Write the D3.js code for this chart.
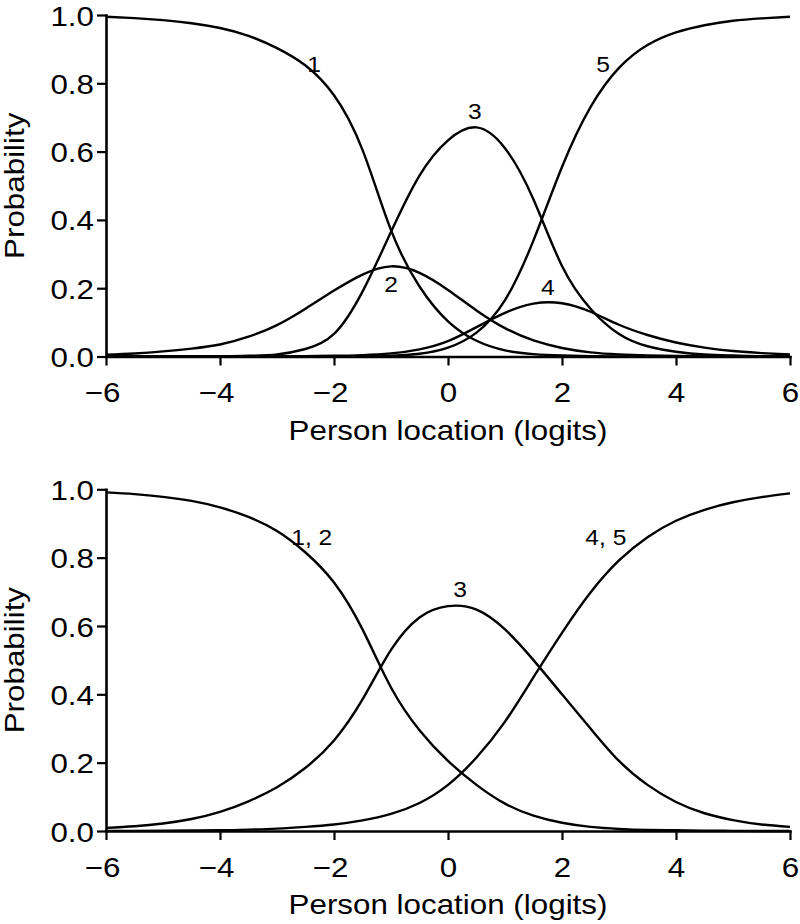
<!DOCTYPE html>
<html>
<head>
<meta charset="utf-8">
<script src="https://cdn.jsdelivr.net/npm/d3@7"></script>
<style>
  body { margin: 0; background: #fff; }
  svg text { font-family: "Liberation Sans", Arial, Helvetica, sans-serif; fill: #000; }
</style>
</head>
<body>
<svg id="chart" width="800" height="924"></svg>
<script>
// ---------- data ----------
const xGrid = [-6,-5.5,-5,-4.5,-4,-3.5,-3,-2.5,-2,-1.5,-1,-0.5,0,0.5,1,1.5,2,2.5,3,3.5,4,4.5,5,5.5,6];

// Top panel: five response categories
const topCat1 = [0.995,0.991,0.985,0.976,0.962,0.939,0.903,0.852,0.765,0.605,0.370,0.205,0.103,0.046,0.018,0.007,0.003,0.001,0,0,0,0,0,0,0];
const topCat2 = [0.005,0.009,0.015,0.023,0.035,0.058,0.092,0.140,0.193,0.240,0.264,0.245,0.195,0.135,0.083,0.047,0.025,0.012,0.006,0.003,0.0015,0.0007,0.0003,0,0];
const topCat3 = [0,0,0,0,0.0005,0.002,0.006,0.022,0.066,0.190,0.365,0.530,0.633,0.671,0.610,0.460,0.265,0.140,0.066,0.030,0.014,0.006,0.003,0.001,0.001];
const topCat4 = [0,0,0,0,0,0,0,0.001,0.002,0.004,0.009,0.021,0.045,0.086,0.128,0.155,0.156,0.131,0.093,0.063,0.041,0.026,0.016,0.010,0.006];
const topCat5 = [0,0,0,0,0,0,0,0,0,0.001,0.002,0.008,0.026,0.070,0.165,0.340,0.555,0.730,0.845,0.912,0.949,0.970,0.983,0.990,0.995];
const topLabels = ["1","2","3","4","5"];
const topLabelX = [-2.35,-1.0,0.47,1.75,2.72];
const topLabelP = [0.855,0.212,0.719,0.204,0.856];

// Bottom panel: collapsed categories
const botCat12 = [0.991,0.986,0.978,0.966,0.947,0.919,0.878,0.815,0.727,0.590,0.420,0.295,0.205,0.135,0.080,0.045,0.024,0.012,0.006,0.003,0.002,0.001,0.0005,0,0];
const botCat3  = [0.009,0.014,0.022,0.035,0.056,0.087,0.128,0.185,0.265,0.385,0.530,0.625,0.658,0.648,0.590,0.500,0.400,0.300,0.205,0.135,0.085,0.052,0.032,0.019,0.012];
const botCat45 = [0.0003,0.0005,0.001,0.0015,0.002,0.004,0.007,0.012,0.019,0.031,0.050,0.082,0.135,0.215,0.320,0.450,0.580,0.698,0.792,0.860,0.908,0.940,0.962,0.977,0.988];
const botLabels = ["1, 2","3","4, 5"];
const botLabelX = [-2.39,0.21,2.77];
const botLabelP = [0.86,0.708,0.86];

const xTicks = [-6,-4,-2,0,2,4,6];
const yTicks = [0,0.2,0.4,0.6,0.8,1.0];
const xTitle = "Person location (logits)";
const yTitle = "Probability";

// ---------- drawing ----------
const svg = d3.select("#chart");
const STRETCH = 1.12;
const x = d3.scaleLinear().domain([-6, 6]).range([106, 790]);

const panels = [
  { top: 15,    bottom: 356.5, series: [topCat1, topCat2, topCat3, topCat4, topCat5],
    labels: topLabels, lx: topLabelX, lp: topLabelP },
  { top: 489.3, bottom: 831,   series: [botCat12, botCat3, botCat45],
    labels: botLabels, lx: botLabelX, lp: botLabelP }
];

panels.forEach(p => {
  const y = d3.scaleLinear().domain([0, 1]).range([p.bottom, p.top]);
  const g = svg.append("g");

  // curves
  const line = d3.line()
    .x((d, i) => x(xGrid[i]))
    .y(d => y(Math.max(0, d)))
    .curve(d3.curveNatural);
  p.series.forEach(s => {
    g.append("path")
      .attr("d", line(s))
      .attr("fill", "none")
      .attr("stroke", "#000")
      .attr("stroke-width", 2.4)
      .attr("stroke-linejoin", "round");
  });

  // x axis
  const xa = g.append("g")
    .attr("transform", `translate(0,${p.bottom})`)
    .call(d3.axisBottom(x).tickValues(xTicks).tickSize(9).tickSizeOuter(0)
      .tickPadding(17).tickFormat(d3.format("d")));
  // y axis
  const ya = g.append("g")
    .attr("transform", `translate(${x(-6)},0)`)
    .call(d3.axisLeft(y).tickValues(yTicks).tickSize(9).tickSizeOuter(0)
      .tickPadding(3).tickFormat(d3.format(".1f")));

  [xa, ya].forEach(a => {
    a.attr("font-size", null).attr("font-family", null);
    a.select(".domain").attr("stroke", "#000").attr("stroke-width", 2.6)
      .attr("stroke-linecap", "square");
    a.selectAll(".tick line").attr("stroke", "#000").attr("stroke-width", 2.2);
    a.selectAll(".tick text").style("font-size", "28px").attr("fill", "#000");
  });
  xa.selectAll(".tick text")
    .attr("transform", d => d < 0 ? `translate(-4,0) scale(${STRETCH},1)` : `scale(${STRETCH},1)`);
  ya.selectAll(".tick text")
    .attr("x", 0).attr("dy", "0.36em")
    .attr("transform", `translate(-12,0) scale(${STRETCH},1)`);

  // axis titles
  g.append("text")
    .attr("transform", `translate(${x(0)},${p.bottom + 83}) scale(${STRETCH},1)`)
    .attr("text-anchor", "middle")
    .style("font-size", "28px")
    .text(xTitle);
  g.append("text")
    .attr("transform", `translate(24,${(p.top + p.bottom) / 2}) rotate(-90) scale(${STRETCH},1)`)
    .attr("text-anchor", "middle")
    .style("font-size", "28px")
    .text(yTitle);

  // curve labels
  p.labels.forEach((t, i) => {
    g.append("text")
      .attr("transform", `translate(${x(p.lx[i])},${y(p.lp[i])}) scale(${STRETCH},1)`)
      .attr("text-anchor", "middle")
      .attr("dy", "0.36em")
      .style("font-size", "22px")
      .text(t);
  });
});
</script>
</body>
</html>
